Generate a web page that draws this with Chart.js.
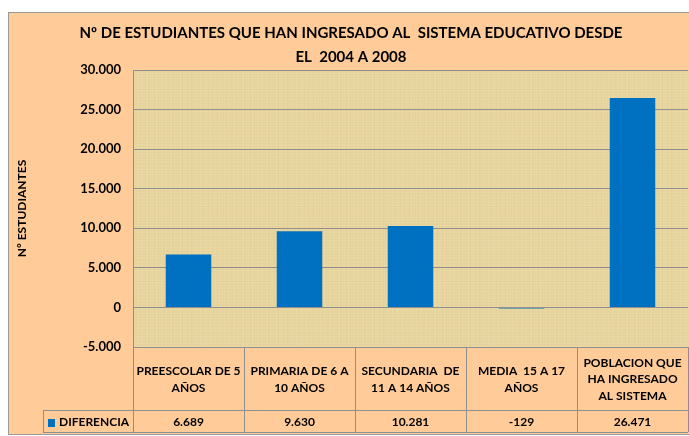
<!DOCTYPE html>
<html>
<head>
<meta charset="utf-8">
<script src="https://cdn.jsdelivr.net/npm/chart.js@4.4.0/dist/chart.umd.min.js"></script>
<style>
  html, body { margin: 0; padding: 0; background: #fff; }
  #c { display: block; }
</style>
</head>
<body>
<canvas id="c" width="689" height="436"></canvas>
<script>
// chart data
const categories = [
  ['PREESCOLAR DE 5', 'AÑOS'],
  ['PRIMARIA DE 6 A', '10 AÑOS'],
  ['SECUNDARIA  DE', '11 A 14 AÑOS'],
  ['MEDIA  15 A 17', 'AÑOS'],
  ['POBLACION QUE', 'HA INGRESADO', 'AL SISTEMA']
];
const diferencia = [6689, 9630, 10281, -129, 26471];
const seriesName = 'DIFERENCIA';
const yMin = -5000, yMax = 30000, yStep = 5000;
const titleLines = ['Nº DE ESTUDIANTES QUE HAN INGRESADO AL  SISTEMA EDUCATIVO DESDE', 'EL  2004 A 2008'];
const yTitle = 'Nº ESTUDIANTES';

const FONT = 'Lato, "Open Sans", sans-serif';
const PEACH = '#FFCC99';
const BLUE = '#0070C0';
const LINE = '#8f8f8f';

// thousands with dots, like the spanish excel output
function fmt(v) {
  const s = Math.abs(v).toString().replace(/\B(?=(\d{3})+(?!\d))/g, '.');
  return (v < 0 ? '-' : '') + s;
}

// papyrus-like texture, deterministic stripes
function papyrus() {
  const p = document.createElement('canvas');
  p.width = 96; p.height = 96;
  const g = p.getContext('2d');
  g.fillStyle = '#E8D6A0';
  g.fillRect(0, 0, 96, 96);
  for (let i = 0; i < 96; i++) {
    const a = 0.5 + 0.5 * Math.sin(i * 1.7) * Math.cos(i * 0.37);
    g.fillStyle = 'rgba(190,160,75,' + (0.13 * a).toFixed(3) + ')';
    g.fillRect(i, 0, 1, 96);
    const b = 0.5 + 0.5 * Math.sin(i * 2.3 + 1) * Math.cos(i * 0.21);
    g.fillStyle = 'rgba(255,246,215,' + (0.2 * b).toFixed(3) + ')';
    g.fillRect(0, i, 96, 1);
  }
  return p;
}

const background = {
  id: 'background',
  beforeDraw(chart) {
    const ctx = chart.ctx, ca = chart.chartArea;
    ctx.save();
    ctx.fillStyle = '#fff';
    ctx.fillRect(0, 0, chart.width, chart.height);
    ctx.fillStyle = PEACH;
    ctx.fillRect(8, 12, chart.width, chart.height - 13);
    ctx.strokeStyle = '#9a9a9a';
    ctx.lineWidth = 1;
    ctx.strokeRect(8.5, 12.5, chart.width, chart.height - 14);
    ctx.fillStyle = ctx.createPattern(papyrus(), 'repeat');
    ctx.fillRect(ca.left, ca.top, ca.right - ca.left, ca.bottom - ca.top);
    ctx.fillStyle = '#000';
    ctx.font = 'bold 15px ' + FONT;
    ctx.textAlign = 'center';
    ctx.textBaseline = 'middle';
    ctx.fillText(titleLines[0], 351, 33);
    ctx.fillText(titleLines[1], 351, 57);
    ctx.restore();
  }
};

const dataTable = {
  id: 'dataTable',
  afterDraw(chart) {
    const ctx = chart.ctx, ca = chart.chartArea, x = chart.scales.x;
    const half = (x.getPixelForValue(1) - x.getPixelForValue(0)) / 2;
    const top = ca.bottom, mid = ca.bottom + 63, bot = mid + 22;
    const legLeft = 43;
    ctx.save();
    ctx.strokeStyle = LINE;
    ctx.lineWidth = 1;
    ctx.beginPath();
    for (let i = 0; i <= categories.length; i++) {
      const px = Math.round(x.getPixelForValue(i) - half) + 0.5;
      ctx.moveTo(px, top); ctx.lineTo(px, bot);
    }
    ctx.moveTo(legLeft + 0.5, mid); ctx.lineTo(legLeft + 0.5, bot);
    ctx.moveTo(legLeft, mid + 0.5); ctx.lineTo(ca.right, mid + 0.5);
    ctx.moveTo(legLeft, bot + 0.5); ctx.lineTo(ca.right, bot + 0.5);
    ctx.stroke();

    ctx.fillStyle = '#000';
    ctx.font = 'bold 12px ' + FONT;
    ctx.textAlign = 'center';
    ctx.textBaseline = 'middle';
    const cy = (top + mid) / 2 + 1;
    categories.forEach((lines, i) => {
      const px = x.getPixelForValue(i);
      const y0 = cy - (lines.length - 1) * 16.5 / 2;
      lines.forEach((t, j) => ctx.fillText(t, px, y0 + j * 16.5));
      ctx.fillText(fmt(diferencia[i]), px, (mid + bot) / 2 + 1);
    });
    ctx.fillStyle = BLUE;
    ctx.fillRect(48, 419, 7, 8);
    ctx.fillStyle = '#000';
    ctx.textAlign = 'left';
    ctx.fillText(seriesName, 59, (mid + bot) / 2 + 1);
    ctx.restore();
  }
};

new Chart(document.getElementById('c'), {
  type: 'bar',
  data: {
    labels: categories,
    datasets: [{
      label: seriesName,
      data: diferencia,
      backgroundColor: BLUE,
      borderWidth: 0,
      barPercentage: 0.41,
      categoryPercentage: 1
    }]
  },
  options: {
    responsive: false,
    devicePixelRatio: 1,
    animation: false,
    layout: { padding: { left: 8, top: 70, right: 1, bottom: 89 } },
    plugins: { legend: { display: false }, title: { display: false }, tooltip: { enabled: false } },
    scales: {
      x: { display: false },
      y: {
        min: yMin, max: yMax,
        afterFit(scale) { scale.width = 125; },
        ticks: {
          stepSize: yStep,
          padding: 12,
          color: '#000',
          font: { family: FONT, size: 13, weight: 'bold' },
          callback: v => fmt(v)
        },
        grid: { color: LINE, lineWidth: 1, drawTicks: false },
        border: { display: true, color: LINE },
        title: {
          display: true,
          text: yTitle,
          color: '#000',
          font: { family: FONT, size: 12, weight: 'bold' },
          padding: { top: 7, bottom: 0 }
        }
      }
    }
  },
  plugins: [background, dataTable]
});
</script>
</body>
</html>
